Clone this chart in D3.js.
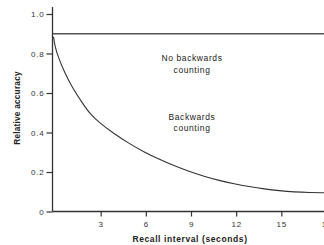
<!DOCTYPE html>
<html><head><meta charset="utf-8">
<script src="https://cdn.jsdelivr.net/npm/d3@7"></script>
<style>body{margin:0;background:#fff}svg{display:block}</style>
</head><body>
<svg id="c" width="324" height="245"></svg>
<script>
const xTicks = [3, 6, 9, 12, 15, 18];
const yTicks = [0, 0.2, 0.4, 0.6, 0.8, 1.0];
const noCountLevel = [{t: 0, v: 0.9}, {t: 18, v: 0.9}];
const countTimes  = [0, 0.1, 0.3, 0.75, 1.3, 2, 2.4, 3, 4, 5, 6, 7, 8, 9, 10, 11, 12, 13, 14, 15, 16, 17, 18];
const countValues = [0.885, 0.835, 0.785, 0.70, 0.62, 0.54, 0.497, 0.452, 0.395, 0.345, 0.302, 0.265, 0.232, 0.203, 0.178, 0.157, 0.14, 0.126, 0.114, 0.105, 0.099, 0.096, 0.095];
const labels = [
  {lines: ["No backwards", "counting"], t: 9, v: 0.76},
  {lines: ["Backwards", "counting"], t: 9, v: 0.465}
];

const svg = d3.select("#c");
const x = d3.scaleLinear().domain([0, 18]).range([55.5, 326.5]);
const y = d3.scaleLinear().domain([0, 1]).range([211.5, 14]);
const font = "Liberation Sans, Arial, sans-serif";
const ink = "#333";

// axes
const yAxis = svg.append("g").attr("transform", "translate(52.5,0)")
  .call(d3.axisLeft(y).tickValues(yTicks).tickSize(6).tickPadding(2)
    .tickFormat(d => d === 0 ? "0" : d3.format(".1f")(d)));
yAxis.select(".domain").remove();
yAxis.append("line").attr("x1", 0).attr("x2", 0).attr("y1", 7).attr("y2", 211.5)
  .attr("stroke", ink).attr("stroke-width", 1.3);

const xAxis = svg.append("g").attr("transform", "translate(0,211.5)")
  .call(d3.axisBottom(x).tickValues(xTicks).tickSize(5).tickPadding(5));
xAxis.select(".domain").remove();
xAxis.append("line").attr("x1", 52.5).attr("x2", 330).attr("y1", 0).attr("y2", 0)
  .attr("stroke", ink).attr("stroke-width", 1.3);

svg.selectAll(".tick line").attr("stroke", ink).attr("stroke-width", 1.2);
svg.selectAll(".tick text").attr("font-family", font).attr("font-size", 8)
  .attr("letter-spacing", 0.8).attr("fill", "#333");

// reference line
svg.append("path").datum(noCountLevel)
  .attr("d", d3.line().x(d => x(d.t) - 2.5).y(d => y(d.v)))
  .attr("fill", "none").attr("stroke", "#555").attr("stroke-width", 1.4);

// decay curve
const pts = countTimes.map((t, i) => ({t, v: countValues[i]}));
svg.append("path").datum(pts)
  .attr("d", d3.line().x(d => x(d.t) - 2).y(d => y(d.v)).curve(d3.curveBasis))
  .attr("fill", "none").attr("stroke", "#333").attr("stroke-width", 1.1);

// annotations
labels.forEach(l => {
  const tx = svg.append("text").attr("text-anchor", "middle")
    .attr("font-family", font).attr("font-size", 8.5).attr("letter-spacing", 0.6).attr("fill", "#222");
  l.lines.forEach((s, i) => {
    tx.append("tspan").attr("x", x(l.t) + 1).attr("y", y(l.v) + i * 11.5).text(s);
  });
});

// axis titles
svg.append("text").attr("x", 190).attr("y", 242).attr("text-anchor", "middle")
  .attr("font-family", font).attr("font-size", 8.5).attr("font-weight", "bold")
  .attr("letter-spacing", 0.6).attr("fill", "#222")
  .text("Recall interval (seconds)");
svg.append("text").attr("transform", "translate(20,108) rotate(-90)").attr("text-anchor", "middle")
  .attr("font-family", font).attr("font-size", 8.3).attr("font-weight", "bold")
  .attr("letter-spacing", 0.2).attr("fill", "#222")
  .text("Relative accuracy");
</script>
</body></html>
